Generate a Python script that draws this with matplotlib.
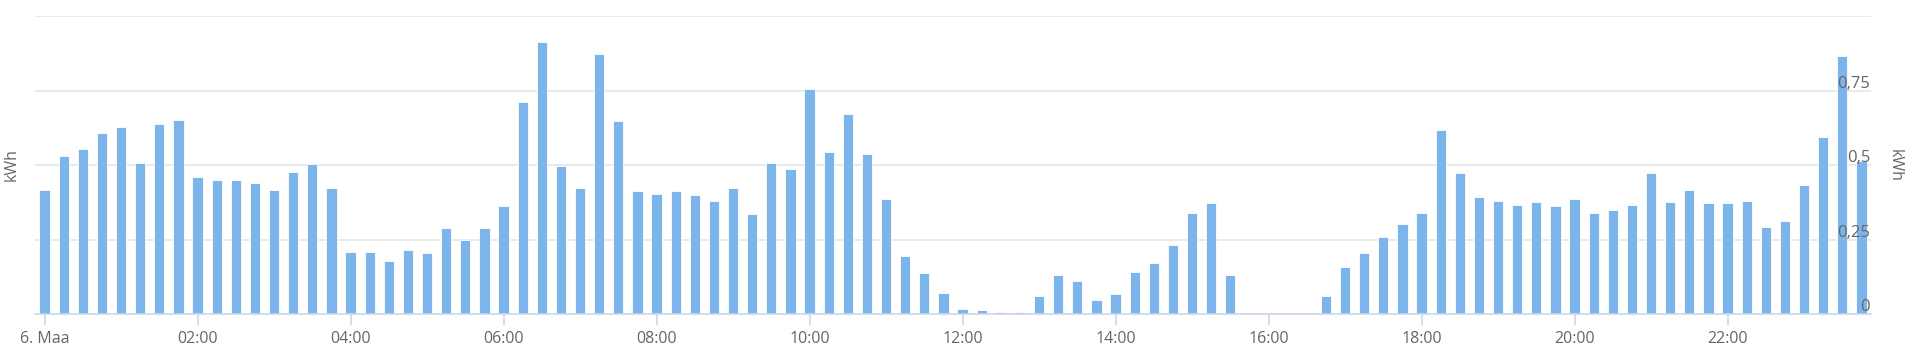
import matplotlib
matplotlib.use("Agg")
import matplotlib.pyplot as plt
from matplotlib.transforms import blended_transform_factory

plt.rcParams['font.family'] = ['Open Sans', 'DejaVu Sans']

# 15-minute consumption, 00:00 .. 23:45 (96 values)
values = [
    0.417, 0.529, 0.553, 0.609, 0.626, 0.506, 0.636, 0.650,
    0.460, 0.450, 0.450, 0.441, 0.417, 0.478, 0.504, 0.422,
    0.209, 0.209, 0.177, 0.214, 0.204, 0.287, 0.249, 0.287,
    0.361, 0.710, 0.914, 0.497, 0.422, 0.871, 0.649, 0.413,
    0.404, 0.413, 0.398, 0.380, 0.422, 0.334, 0.506, 0.488,
    0.756, 0.543, 0.672, 0.537, 0.385, 0.195, 0.139, 0.069,
    0.016, 0.015, 0.006, 0.006, 0.062, 0.130, 0.112, 0.047,
    0.066, 0.140, 0.172, 0.232, 0.339, 0.371, 0.130, 0.0,
    0.0, 0.0, 0.0, 0.062, 0.158, 0.204, 0.260, 0.301,
    0.339, 0.616, 0.473, 0.394, 0.380, 0.367, 0.376, 0.361,
    0.385, 0.339, 0.348, 0.367, 0.473, 0.376, 0.417, 0.371,
    0.371, 0.380, 0.292, 0.311, 0.432, 0.594, 0.867, 0.515,
]
x_tick_labels = ["6. Maa", "02:00", "04:00", "06:00", "08:00", "10:00",
                 "12:00", "14:00", "16:00", "18:00", "20:00", "22:00"]
y_grid = [0, 0.25, 0.5, 0.75, 1.0]
y_labels = ["0", "0,25", "0,5", "0,75"]
unit = "kWh"

BAR = "#7cb5ec"
GRID = "#e6e6e6"
AXIS = "#ccd6eb"
TXT = "#666666"

fig = plt.figure(figsize=(19.2, 3.6), dpi=100)
ax = fig.add_axes([35 / 1920, 1 - 314 / 360, 1836 / 1920, 298 / 360])

xs = list(range(len(values)))
ax.bar(xs, values, width=0.54, color=BAR, edgecolor="white", linewidth=0.6, zorder=3)

ax.set_xlim(-0.5, len(values) - 0.5)
ax.set_ylim(0, 1.0)

for s in ["left", "right", "top"]:
    ax.spines[s].set_visible(False)
ax.spines["bottom"].set_color(AXIS)
ax.spines["bottom"].set_linewidth(1.2)
ax.spines["bottom"].set_zorder(4)

ax.set_yticks(y_grid)
ax.yaxis.grid(True, color=GRID, linewidth=1.2, zorder=0)
ax.tick_params(axis="y", length=0, labelleft=False, labelright=False)

ax.set_xticks([i * 8 for i in range(len(x_tick_labels))])
ax.set_xticklabels(x_tick_labels)
ax.tick_params(axis="x", length=8, width=1.2, color=AXIS, labelcolor=TXT,
               labelsize=11.5, pad=4)

trans = blended_transform_factory(ax.transAxes, ax.transData)
for v, lab in zip(y_grid, y_labels):
    ax.text(0.9995, v + 0.009, lab, transform=trans, ha="right", va="baseline",
            color=TXT, fontsize=12, zorder=5)

fig.text(12 / 1920, 1 - 165 / 360, unit, rotation=90, ha="center", va="center",
         color=TXT, fontsize=11.5)
fig.text(1895 / 1920, 1 - 165 / 360, unit, rotation=270, ha="center", va="center",
         color=TXT, fontsize=11.5)

fig.savefig("out.png", dpi=100, facecolor="white")
